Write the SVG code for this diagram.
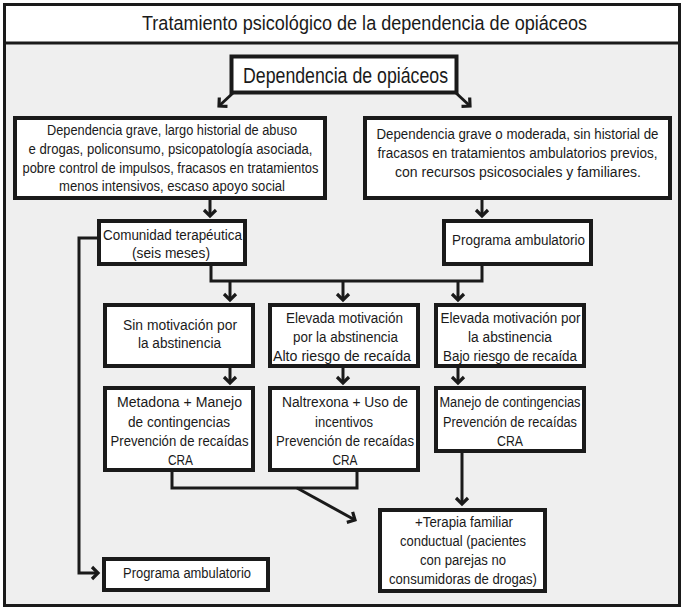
<svg xmlns="http://www.w3.org/2000/svg" width="683" height="609" viewBox="0 0 683 609">
  <style>
    .box { fill: #ffffff; stroke: #1a1a1a; stroke-width: 4; }
    .t { font-family: "Liberation Sans", Arial, sans-serif; font-size: 15.5px; fill: #1a1a1a; text-anchor: middle; }
    .conn { fill: none; stroke: #1a1a1a; stroke-width: 3; stroke-linejoin: miter; }
  </style>
  <defs>
    <marker id="chev" markerUnits="userSpaceOnUse" markerWidth="16" markerHeight="16" viewBox="-9 -8 16 16" refX="0" refY="0" orient="auto">
      <path d="M-6,-6 L0,0 L-6,6" fill="none" stroke="#1a1a1a" stroke-width="3.2" stroke-linejoin="miter"/>
    </marker>
  </defs>

  <!-- outer frame and title bar -->
  <rect x="0" y="0" width="683" height="609" fill="#ffffff"/>
  <rect x="4.5" y="43" width="675" height="562" fill="#efefef"/>
  <rect x="4.5" y="4.5" width="675" height="601" fill="none" stroke="#1a1a1a" stroke-width="3"/>
  <line x1="4.5" y1="43" x2="679.5" y2="43" stroke="#1a1a1a" stroke-width="3"/>
  <text id="title" class="t" x="364.5" y="30" style="font-size:20.5px" textLength="445" lengthAdjust="spacingAndGlyphs">Tratamiento psicológico de la dependencia de opiáceos</text>

  <!-- connectors -->
  <g id="connectors" class="conn">
    <line x1="233" y1="93" x2="219" y2="106" marker-end="url(#chev)"/>
    <line x1="456" y1="93" x2="470" y2="106" marker-end="url(#chev)"/>
    <line x1="210" y1="199" x2="210" y2="216" marker-end="url(#chev)"/>
    <line x1="482" y1="199" x2="482" y2="216" marker-end="url(#chev)"/>
    <polyline points="211,265 211,281 482,281 482,265"/>
    <line x1="230" y1="281" x2="230" y2="300" marker-end="url(#chev)"/>
    <line x1="343" y1="281" x2="343" y2="300" marker-end="url(#chev)"/>
    <line x1="458" y1="281" x2="458" y2="300" marker-end="url(#chev)"/>
    <line x1="230" y1="367" x2="230" y2="383" marker-end="url(#chev)"/>
    <line x1="343" y1="367" x2="343" y2="383" marker-end="url(#chev)"/>
    <line x1="458" y1="367" x2="458" y2="383" marker-end="url(#chev)"/>
    <polyline points="172,471 172,488 357,488 357,471"/>
    <line x1="297" y1="488" x2="355" y2="520" marker-end="url(#chev)"/>
    <line x1="462" y1="452" x2="462" y2="504" marker-end="url(#chev)"/>
    <polyline points="99,238 79,238 79,573 98,573" marker-end="url(#chev)"/>
  </g>

  <!-- nodes -->
  <g id="dependencia">
    <rect class="box" x="231.5" y="56.5" width="225" height="36"/>
    <text class="t" x="345.5" y="83" style="font-size:22px" textLength="205" lengthAdjust="spacingAndGlyphs">Dependencia de opiáceos</text>
  </g>

  <g id="perfil-grave">
    <rect class="box" x="15" y="118" width="310" height="80"/>
    <text class="t" x="172" y="135" textLength="250" lengthAdjust="spacingAndGlyphs">Dependencia grave, largo historial de abuso</text>
    <text class="t" x="170.5" y="154" textLength="284" lengthAdjust="spacingAndGlyphs">e drogas, policonsumo, psicopatología asociada,</text>
    <text class="t" x="170.5" y="173" textLength="296" lengthAdjust="spacingAndGlyphs">pobre control de impulsos, fracasos en tratamientos</text>
    <text class="t" x="172" y="191" textLength="226" lengthAdjust="spacingAndGlyphs">menos intensivos, escaso apoyo social</text>
  </g>

  <g id="perfil-moderado">
    <rect class="box" x="365" y="118" width="305" height="80"/>
    <text class="t" x="517.5" y="139" textLength="282" lengthAdjust="spacingAndGlyphs">Dependencia grave o moderada, sin historial de</text>
    <text class="t" x="517.5" y="158" textLength="280" lengthAdjust="spacingAndGlyphs">fracasos en tratamientos ambulatorios previos,</text>
    <text class="t" x="518" y="177" textLength="246" lengthAdjust="spacingAndGlyphs">con recursos  psicosociales y familiares.</text>
  </g>

  <g id="comunidad">
    <rect class="box" x="99" y="221" width="146" height="43"/>
    <text class="t" x="172.5" y="240" textLength="139" lengthAdjust="spacingAndGlyphs">Comunidad terapéutica</text>
    <text class="t" x="171" y="258" textLength="78" lengthAdjust="spacingAndGlyphs">(seis meses)</text>
  </g>

  <g id="ambulatorio-1">
    <rect class="box" x="444" y="221" width="147" height="43"/>
    <text class="t" x="518.5" y="245" textLength="133" lengthAdjust="spacingAndGlyphs">Programa ambulatorio</text>
  </g>

  <g id="sin-motivacion">
    <rect class="box" x="105" y="305" width="148" height="61"/>
    <text class="t" x="180" y="330" textLength="114" lengthAdjust="spacingAndGlyphs">Sin motivación por</text>
    <text class="t" x="179.5" y="348" textLength="83" lengthAdjust="spacingAndGlyphs">la abstinencia</text>
  </g>

  <g id="motivacion-alto-riesgo">
    <rect class="box" x="270" y="305" width="148" height="61"/>
    <text class="t" x="344.5" y="323" textLength="117" lengthAdjust="spacingAndGlyphs">Elevada motivación</text>
    <text class="t" x="345.5" y="342" textLength="105" lengthAdjust="spacingAndGlyphs">por la abstinencia</text>
    <text class="t" x="342" y="361" textLength="138" lengthAdjust="spacingAndGlyphs">Alto riesgo de recaída</text>
  </g>

  <g id="motivacion-bajo-riesgo">
    <rect class="box" x="436" y="305" width="148" height="61"/>
    <text class="t" x="510.5" y="323" textLength="140" lengthAdjust="spacingAndGlyphs">Elevada motivación por</text>
    <text class="t" x="510" y="342" textLength="84" lengthAdjust="spacingAndGlyphs">la abstinencia</text>
    <text class="t" x="510" y="361" textLength="134" lengthAdjust="spacingAndGlyphs">Bajo riesgo de recaída</text>
  </g>

  <g id="metadona">
    <rect class="box" x="105" y="388" width="148" height="82"/>
    <text class="t" x="179.5" y="407" textLength="125" lengthAdjust="spacingAndGlyphs">Metadona + Manejo</text>
    <text class="t" x="179" y="427" textLength="102" lengthAdjust="spacingAndGlyphs">de contingencias</text>
    <text class="t" x="179.5" y="446" textLength="138" lengthAdjust="spacingAndGlyphs">Prevención de recaídas</text>
    <text class="t" x="180.5" y="465" textLength="25" lengthAdjust="spacingAndGlyphs">CRA</text>
  </g>

  <g id="naltrexona">
    <rect class="box" x="270" y="388" width="148" height="82"/>
    <text class="t" x="345" y="407" textLength="126" lengthAdjust="spacingAndGlyphs">Naltrexona + Uso de</text>
    <text class="t" x="344" y="427" textLength="58" lengthAdjust="spacingAndGlyphs">incentivos</text>
    <text class="t" x="345" y="446" textLength="138" lengthAdjust="spacingAndGlyphs">Prevención de recaídas</text>
    <text class="t" x="345" y="465" textLength="25" lengthAdjust="spacingAndGlyphs">CRA</text>
  </g>

  <g id="contingencias">
    <rect class="box" x="436" y="388" width="148" height="63"/>
    <text class="t" x="510" y="407" textLength="141" lengthAdjust="spacingAndGlyphs">Manejo de contingencias</text>
    <text class="t" x="510" y="427" textLength="134" lengthAdjust="spacingAndGlyphs">Prevención de recaídas</text>
    <text class="t" x="510" y="446" textLength="26" lengthAdjust="spacingAndGlyphs">CRA</text>
  </g>

  <g id="terapia-familiar">
    <rect class="box" x="380" y="510" width="165" height="81"/>
    <text class="t" x="464" y="527" textLength="98" lengthAdjust="spacingAndGlyphs">+Terapia familiar</text>
    <text class="t" x="463" y="546" textLength="126" lengthAdjust="spacingAndGlyphs">conductual (pacientes</text>
    <text class="t" x="463" y="565" textLength="86" lengthAdjust="spacingAndGlyphs">con parejas no</text>
    <text class="t" x="463" y="584" textLength="148" lengthAdjust="spacingAndGlyphs">consumidoras de drogas)</text>
  </g>

  <g id="ambulatorio-2">
    <rect class="box" x="104" y="559" width="164" height="31"/>
    <text class="t" x="187" y="578" textLength="128" lengthAdjust="spacingAndGlyphs">Programa ambulatorio</text>
  </g>
</svg>
